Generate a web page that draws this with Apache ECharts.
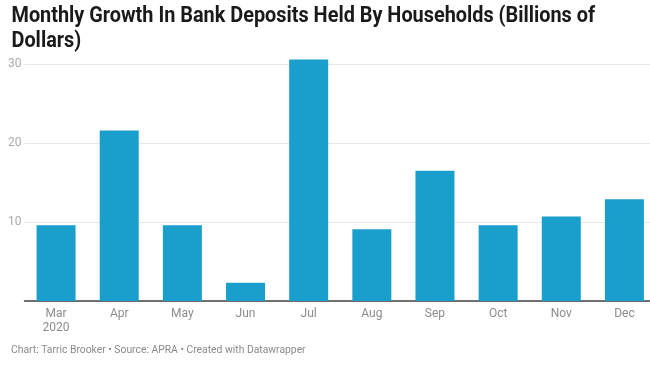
<!DOCTYPE html>
<html><head><meta charset="utf-8">
<script src="https://cdn.jsdelivr.net/npm/echarts@6/dist/echarts.min.js"></script>
<style>html,body{margin:0;padding:0;background:#fff;overflow:hidden}#c{width:656px;height:365px}</style>
</head><body><div id="c"></div>
<script>
const categories = ["Mar\n2020","Apr","May","Jun","Jul","Aug","Sep","Oct","Nov","Dec"];
const growth = [9.6, 21.6, 9.6, 2.3, 30.6, 9.1, 16.5, 9.6, 10.7, 12.9];
const yTicks = [0, 10, 20, 30];
const titleText = "Monthly Growth In Bank Deposits Held By Households (Billions of\nDollars)";
const footerText = "Chart: Tarric Brooker \u2022 Source: APRA \u2022 Created with Datawrapper";

const chart = echarts.init(document.getElementById('c'), null, {renderer:'canvas'});
chart.setOption({
  animation:false,
  backgroundColor:'#fff',
  graphic:[{
    type:'text', x:11.5, y:3.5, scaleX:0.903,
    style:{text:titleText, font:'bold 22px Roboto, sans-serif', lineHeight:25, fill:'#1a1a1a', textVerticalAlign:'top'}
  },{
    type:'text', x:11, y:344.8, scaleX:0.94,
    style:{text:footerText, font:'11px Roboto, sans-serif', lineHeight:11, fill:'#8a8a8a', textVerticalAlign:'top'}
  }],
  grid:{left:24.5, right:0, top:64.3, bottom:64},
  xAxis:{
    type:'category', data:categories,
    axisLine:{lineStyle:{color:'#444', width:1.5}},
    axisTick:{show:false},
    axisLabel:{color:'#8c8c8c', fontSize:12, fontFamily:'Roboto, sans-serif', margin:6, lineHeight:14}
  },
  yAxis:{
    type:'value', min:0, max:30, interval:10,
    axisLine:{show:false}, axisTick:{show:false},
    splitLine:{lineStyle:{color:'#e9e9e9', width:1}},
    axisLabel:{color:'#aaa', fontSize:12, fontFamily:'Roboto, sans-serif', margin:3,
      formatter:v => yTicks.includes(v) && v !== 0 ? String(v) : ''}
  },
  series:[{
    type:'bar', data:growth, barWidth:39, clip:false,
    itemStyle:{color:'#1a9fcc'}
  }]
});
</script></body></html>
